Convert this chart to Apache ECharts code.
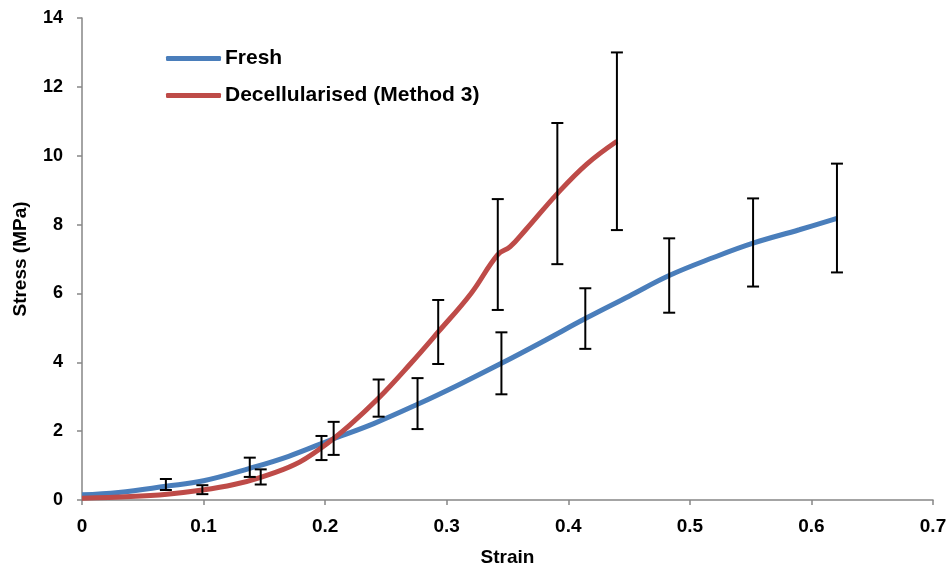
<!DOCTYPE html>
<html>
<head>
<meta charset="utf-8">
<script src="https://cdn.jsdelivr.net/npm/echarts@6/dist/echarts.min.js"></script>
<style>
  html, body { margin: 0; padding: 0; background: #fff; }
  #chart { width: 951px; height: 572px; }
</style>
</head>
<body>
<div id="chart"></div>
<script>
// curve samples
let freshCurveX = [0, 0.03, 0.069, 0.1, 0.138, 0.17, 0.207, 0.24, 0.276, 0.31, 0.345, 0.38, 0.414, 0.45, 0.483, 0.52, 0.552, 0.59, 0.621];
let freshCurveY = [0.15, 0.22, 0.40, 0.56, 0.92, 1.27, 1.78, 2.22, 2.78, 3.35, 3.97, 4.62, 5.27, 5.92, 6.52, 7.05, 7.46, 7.85, 8.18];
let decelCurveX = [0, 0.04, 0.07, 0.099, 0.125, 0.147, 0.175, 0.197, 0.22, 0.244, 0.27, 0.293, 0.32, 0.342, 0.352, 0.365, 0.391, 0.415, 0.44];
let decelCurveY = [0.05, 0.10, 0.17, 0.29, 0.45, 0.66, 1.03, 1.52, 2.17, 2.96, 3.95, 4.88, 6.0, 7.13, 7.35, 7.85, 8.9, 9.75, 10.42];

// error bars: x, mean, +/- error
let freshErrX = [0.069, 0.138, 0.207, 0.276, 0.345, 0.414, 0.483, 0.552, 0.621];
let freshErrMean = [0.45, 0.95, 1.79, 2.80, 3.97, 5.27, 6.52, 7.48, 8.19];
let freshErr = [0.16, 0.28, 0.48, 0.74, 0.90, 0.88, 1.08, 1.28, 1.58];
let decelErrX = [0.099, 0.147, 0.197, 0.244, 0.293, 0.342, 0.391, 0.44];
let decelErrMean = [0.30, 0.67, 1.51, 2.96, 4.88, 7.13, 8.90, 10.42];
let decelErr = [0.13, 0.22, 0.35, 0.54, 0.93, 1.61, 2.05, 2.58];

let xTicks = { min: 0, max: 0.7, interval: 0.1 };
let yTicks = { min: 0, max: 14, interval: 2 };

let zipPts = function(xs, ys){
    return xs.map((x, i) => [x, ys[i]]);
};
let errRows = function(xs, m, e){
    return xs.map((x, i) => [x, m[i] - e[i], m[i] + e[i]]);
};

let renderErr = function(params, api){
    let lo = api.coord([api.value(0), api.value(1)]);
    let hi = api.coord([api.value(0), api.value(2)]);
    let cap = 6;
    let st = { stroke: '#000', lineWidth: 2 };
    return {
        type: 'group',
        children: [
            { type: 'line', shape: { x1: lo[0], y1: lo[1], x2: hi[0], y2: hi[1] }, style: st },
            { type: 'line', shape: { x1: lo[0] - cap, y1: lo[1], x2: lo[0] + cap, y2: lo[1] }, style: st },
            { type: 'line', shape: { x1: hi[0] - cap, y1: hi[1], x2: hi[0] + cap, y2: hi[1] }, style: st }
        ]
    };
};

let font = '"Liberation Sans", Arial, sans-serif';
let axisGray = '#868686';

let chart = echarts.init(document.getElementById('chart'));
chart.setOption({
    animation: false,
    grid: { left: 82, right: 18, top: 18, bottom: 72 },
    legend: {
        data: ['Fresh', 'Decellularised (Method 3)'],
        orient: 'vertical',
        left: 161,
        top: 43,
        icon: 'roundRect',
        itemWidth: 55,
        itemHeight: 5,
        itemGap: 16,
        textStyle: { fontFamily: font, fontWeight: 'bold', fontSize: 21, color: '#000', padding: [0, 0, 0, -1] }
    },
    xAxis: {
        type: 'value',
        min: xTicks.min, max: xTicks.max, interval: xTicks.interval,
        name: 'Strain',
        nameLocation: 'middle',
        nameGap: 48,
        nameTextStyle: { fontFamily: font, fontWeight: 'bold', fontSize: 19, color: '#000' },
        axisLine: { lineStyle: { color: axisGray, width: 1.5 } },
        axisTick: { show: true, inside: false, length: 5, lineStyle: { color: axisGray, width: 1.5 } },
        axisLabel: { fontFamily: font, fontWeight: 'bold', fontSize: 19, color: '#000', margin: 17, formatter: v => String(+v.toFixed(1)) },
        splitLine: { show: false }
    },
    yAxis: {
        type: 'value',
        min: yTicks.min, max: yTicks.max, interval: yTicks.interval,
        name: 'Stress (MPa)',
        nameLocation: 'middle',
        nameGap: 52,
        nameTextStyle: { fontFamily: font, fontWeight: 'bold', fontSize: 19, color: '#000' },
        axisLine: { show: true, lineStyle: { color: axisGray, width: 1.5 } },
        axisTick: { show: true, inside: false, length: 5, lineStyle: { color: axisGray, width: 1.5 } },
        axisLabel: { fontFamily: font, fontWeight: 'bold', fontSize: 18, color: '#000', margin: 19 },
        splitLine: { show: false }
    },
    series: [
        {
            name: 'Fresh',
            type: 'line',
            data: zipPts(freshCurveX, freshCurveY),
            smooth: 0.4,
            symbol: 'none',
            lineStyle: { color: '#4A7EBB', width: 5 },
            itemStyle: { color: '#4A7EBB' },
            z: 3
        },
        {
            name: 'Decellularised (Method 3)',
            type: 'line',
            data: zipPts(decelCurveX, decelCurveY),
            smooth: 0.4,
            symbol: 'none',
            lineStyle: { color: '#BE4B48', width: 5 },
            itemStyle: { color: '#BE4B48' },
            z: 3
        },
        {
            name: 'freshErr',
            type: 'custom',
            renderItem: renderErr,
            data: errRows(freshErrX, freshErrMean, freshErr),
            encode: { x: 0, y: [1, 2] },
            z: 4
        },
        {
            name: 'decelErr',
            type: 'custom',
            renderItem: renderErr,
            data: errRows(decelErrX, decelErrMean, decelErr),
            encode: { x: 0, y: [1, 2] },
            z: 4
        }
    ]
});
</script>
</body>
</html>
